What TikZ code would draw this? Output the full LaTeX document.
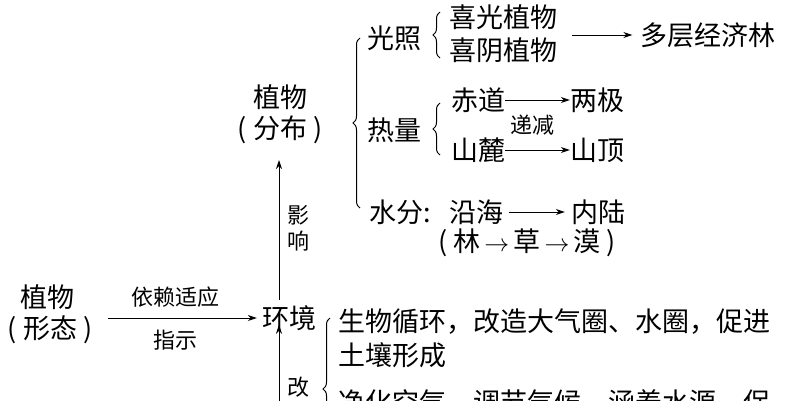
\documentclass[tikz,border=0pt]{standalone}
\usepackage{fontspec}
\setmainfont{Noto Sans CJK SC}
\usetikzlibrary{decorations.pathreplacing,arrows.meta}
\begin{document}
\begin{tikzpicture}[x=1pt,y=-1pt,
  t/.style={inner sep=0pt,font=\fontsize{27}{32}\selectfont},
  s/.style={inner sep=0pt,font=\fontsize{22}{26}\selectfont},
  arr/.style={-{Stealth[length=9pt,width=6pt]},line width=1pt},
  br/.style={decorate,decoration={brace,amplitude=7pt},line width=1pt}]
\useasboundingbox (0,0) rectangle (795,400);
\node[t] (pl) at (47,297) {植物};
\node[t] (xt) at (50,330) {( 形态 )};
\node[s] (yl) at (175,297) {依赖适应};
\node[s] (zs) at (175,340) {指示};
\node[t] (hj) at (289,318) {环境};
\coordinate (a1) at (108,318);
\draw[arr] (a1) -- ([xshift=-5pt]hj.west);
\node[t] (pt) at (280,97) {植物};
\node[t] (fb) at (280,130) {( 分布 )};
\coordinate (v1) at (279,300);
\coordinate (v2) at (279,160);
\draw[arr] (v1) -- (v2);
\node[s,align=center] (yx) at (298,228) {影\\响};
\coordinate (b1) at (360,208);
\coordinate (b2) at (360,38);
\draw[br] (b1) -- (b2);
\node[t] (gz) at (394,38) {光照};
\draw[br] (440,58) -- (440,12);
\node[t] (xg) at (503,17) {喜光植物};
\node[t] (xy) at (503,50) {喜阴植物};
\node[t] (dc) at (708,35) {多层经济林};
\coordinate (g1) at (572,35);
\draw[arr] (g1) -- ([xshift=-8pt]dc.west);
\node[t] (rl) at (394,130) {热量};
\draw[br] (440,155) -- (440,103);
\node[t] (cd) at (478,100) {赤道};
\node[t] (lj) at (597,100) {两极};
\draw[arr] (cd.east) -- (lj.west);
\node[s] (dj) at (532,125) {递减};
\node[t] (sl) at (478,150) {山麓};
\node[t] (sd) at (597,150) {山顶};
\draw[arr] (sl.east) -- (sd.west);
\node[t] (sf) at (400,212) {水分:};
\node[t] (yh) at (476,212) {沿海};
\node[t] (nl) at (598,212) {内陆};
\draw[arr] ([xshift=6pt]yh.east) -- ([xshift=-6pt]nl.west);
\node[t] (lcm) at (527,243) {( 林$\,\rightarrow\,$草$\,\rightarrow\,$漠 )};
\draw[br] (330,460) -- (330,318);
\node[t,anchor=west] (sw) at (338,322) {生物循环，改造大气圈、水圈，促进};
\node[t,anchor=west] (tr) at (338,355) {土壤形成};
\node[t,anchor=west] (jh) at (338,402) {净化空气、调节气候、涵养水源、保};
\coordinate (u1) at (279,410);
\draw[arr] (u1) -- ([yshift=6pt]hj.south -| 279,0);
\node[s] (gai) at (298,387) {改};
\end{tikzpicture}
\end{document}
